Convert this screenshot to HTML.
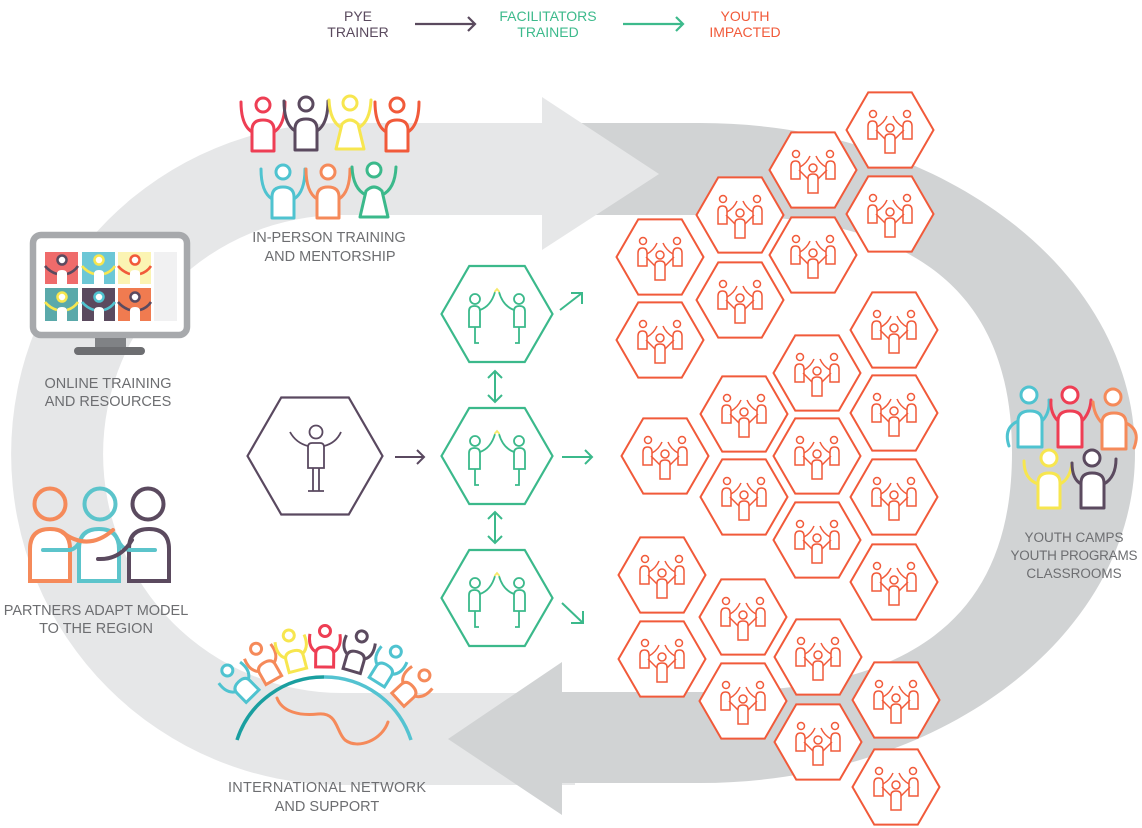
<!DOCTYPE html>
<html><head><meta charset="utf-8"><style>
html,body{margin:0;padding:0;background:#fff;}
svg{display:block;}
text{font-family:"Liberation Sans",sans-serif;}
</style></head><body>
<svg width="1142" height="828" viewBox="0 0 1142 828" xmlns="http://www.w3.org/2000/svg">
<defs>
<g id="oh">
<polygon points="-43.5,0 -21.75,-37.6 21.75,-37.6 43.5,0 21.75,37.6 -21.75,37.6" fill="#fff" stroke="#f15a3a" stroke-width="2"/>
<g fill="none" stroke="#f15a3a" stroke-width="1.5">
<circle cx="-17" cy="-16" r="3.5"/>
<circle cx="17" cy="-16" r="3.5"/>
<circle cx="0" cy="-2" r="4"/>
<path d="M-22,9 V-4 Q-22,-9 -17.5,-9 Q-13,-9 -13,-4 V9 Z"/>
<path d="M22,9 V-4 Q22,-9 17.5,-9 Q13,-9 13,-4 V9 Z"/>
<path d="M-5,23 V8 Q-5,4 0,4 Q5,4 5,8 V23 Z"/>
<path d="M-13,-3 Q-6,-7 -3,-14"/>
<path d="M13,-3 Q6,-7 3,-14"/>
<path d="M-5,9 L-14,0"/>
<path d="M5,9 L14,0"/>
</g>
</g>
<g id="gh">
<polygon points="-55.5,0 -27.75,-48 27.75,-48 55.5,0 27.75,48 -27.75,48" fill="#fff" stroke="#3bb98b" stroke-width="2.2"/>
<g fill="none" stroke="#3bb98b" stroke-width="1.8">
<circle cx="-22" cy="-15" r="5"/>
<circle cx="22" cy="-15" r="5"/>
<path d="M-28,13 V-3 Q-28,-8 -22.5,-8 Q-17,-8 -17,-3 V13 Z"/>
<path d="M28,13 V-3 Q28,-8 22.5,-8 Q17,-8 17,-3 V13 Z"/>
<path d="M-22,13 V29 H-18"/>
<path d="M22,13 V29 H18"/>
<path d="M-17,-4 Q-6,-8 -2,-22"/>
<path d="M17,-4 Q6,-8 2,-22"/>
</g>
<path d="M-2.5,-22 L0,-25 L2.5,-22" fill="none" stroke="#f5e96a" stroke-width="1.8"/>
</g>
<g id="nf">
<path d="M-9,-15 Q-17,-20 -15,-33" fill="none" stroke-width="3"/>
<path d="M9,-15 Q17,-20 15,-33" fill="none" stroke-width="3"/>
<path d="M-9,0 V-13 Q-9,-20 0,-20 Q9,-20 9,-13 V0 Z" fill="#fff" stroke-width="3"/>
<circle cx="0" cy="-36" r="5.5" fill="#fff" stroke-width="3"/>
</g>
</defs>

<!-- light gray loop -->
<path d="M560,123 L342,123 A331,331 0 0 0 342,785 L575,785 L575,693 L342,693 A239,239 0 0 1 342,215 L560,215 Z" fill="#e6e7e8"/>
<!-- dark gray loop -->
<path d="M575,123 L700,123 C940,123 1135,270 1135,453 C1135,636 940,783 700,783 L560,783 L560,692 L700,692 C900,694 1012,626 1012,453 C1012,280 900,212 700,215 L575,215 Z" fill="#d1d3d4"/>
<polygon points="562,662 448,739 562,815" fill="#d1d3d4"/>
<polygon points="542,97 659,174 542,250" fill="#e6e7e8"/>

<!-- legend -->
<g font-size="14" text-anchor="middle">
<text x="358" y="21" fill="#5a4a5e">PYE</text>
<text x="358" y="37" fill="#5a4a5e">TRAINER</text>
<text x="548" y="21" fill="#3dba8c">FACILITATORS</text>
<text x="548" y="37" fill="#3dba8c">TRAINED</text>
<text x="745" y="21" fill="#f15a3a">YOUTH</text>
<text x="745" y="37" fill="#f15a3a">IMPACTED</text>
</g>
<g fill="none" stroke-width="2.2">
<path d="M415,24 H475 M468,17 L475,24 L468,31" stroke="#5a4a5e"/>
<path d="M623,24 H683 M676,17 L683,24 L676,31" stroke="#3dba8c"/>
</g>

<!-- in-person figures -->
<g stroke-width="3" stroke-linejoin="round" stroke-linecap="round">
<g stroke="#ee3e54" fill="#fff"><path d="M252,132 Q241,125 241,102" fill="none"/><path d="M274,132 Q285,125 285,102" fill="none"/><path d="M252,151 V130 Q252,120 263,120 Q274,120 274,130 V151 Z"/><circle cx="263" cy="105" r="7"/></g>
<g stroke="#5b4a5f" fill="#fff"><path d="M295,131 Q284,124 284,101" fill="none"/><path d="M317,131 Q328,124 328,101" fill="none"/><path d="M295,150 V129 Q295,119 306,119 Q317,119 317,129 V150 Z"/><circle cx="306" cy="104" r="7"/></g>
<g stroke="#f7e64f" fill="#fff"><path d="M342,128 Q330,122 329,100" fill="none"/><path d="M358,128 Q370,122 371,100" fill="none"/><path d="M336,149 L342,124 Q350,116 358,124 L364,149 Z"/><circle cx="350" cy="103" r="7"/></g>
<g stroke="#f15a3a" fill="#fff"><path d="M386,132 Q375,125 375,102" fill="none"/><path d="M408,132 Q419,125 419,102" fill="none"/><path d="M386,151 V130 Q386,120 397,120 Q408,120 408,130 V151 Z"/><circle cx="397" cy="105" r="7"/></g>
<g stroke="#4fc3d0" fill="#fff"><path d="M272,199 Q261,192 261,169" fill="none"/><path d="M294,199 Q305,192 305,169" fill="none"/><path d="M272,218 V197 Q272,187 283,187 Q294,187 294,197 V218 Z"/><circle cx="283" cy="172" r="7"/></g>
<g stroke="#f58a5a" fill="#fff"><path d="M317,199 Q306,192 306,169" fill="none"/><path d="M339,199 Q350,192 350,169" fill="none"/><path d="M317,218 V197 Q317,187 328,187 Q339,187 339,197 V218 Z"/><circle cx="328" cy="172" r="7"/></g>
<g stroke="#3bb98b" fill="#fff"><path d="M366,195 Q353,189 352,167" fill="none"/><path d="M382,195 Q395,189 396,167" fill="none"/><path d="M360,217 L366,191 Q374,183 382,191 L388,217 Z"/><circle cx="374" cy="170" r="7"/></g>
</g>
<g font-size="14.5" fill="#6d6e71" text-anchor="middle">
<text x="329" y="242">IN-PERSON TRAINING</text>
<text x="330" y="261">AND MENTORSHIP</text>
<text x="108" y="388">ONLINE TRAINING</text>
<text x="108" y="406">AND RESOURCES</text>
<text x="96" y="615">PARTNERS ADAPT MODEL</text>
<text x="96" y="633">TO THE REGION</text>
<text x="327" y="792" textLength="198">INTERNATIONAL NETWORK</text>
<text x="327" y="811">AND SUPPORT</text>
</g>
<g font-size="13.5" fill="#6d6e71" text-anchor="middle">
<text x="1074" y="542">YOUTH CAMPS</text>
<text x="1074" y="560" textLength="127">YOUTH PROGRAMS</text>
<text x="1074" y="578">CLASSROOMS</text>
</g>

<!-- monitor -->
<rect x="33" y="235" width="154" height="100" rx="8" fill="#fff" stroke="#a7a9ac" stroke-width="6.5"/>
<rect x="95" y="338" width="31" height="10" fill="#808285"/>
<rect x="74" y="347" width="71" height="8" rx="4" fill="#6d6e71"/>
<rect x="154" y="252" width="23" height="69" fill="#f1f1f2"/>
<g>
<rect x="45" y="252" width="33" height="32" fill="#ef6b6b"/>
<rect x="82" y="252" width="33" height="32" fill="#6cc7d6"/>
<rect x="118" y="252" width="33" height="32" fill="#fbf4b3"/>
<rect x="45" y="288" width="33" height="33" fill="#5aa9aa"/>
<rect x="82" y="288" width="33" height="33" fill="#5b4a5f"/>
<rect x="118" y="288" width="33" height="33" fill="#f07b50"/>
</g>
<g stroke-width="2.6" fill="none">
<g stroke="#5b4a5f"><path d="M57,274 Q50,272 45,266 M67,274 Q74,272 78,266"/></g>
<g stroke="#f7e64f"><path d="M94,274 Q87,272 82,266 M104,274 Q111,272 115,266"/></g>
<g stroke="#f15a3a"><path d="M130,274 Q123,272 118,266 M140,274 Q147,272 151,266"/></g>
<g stroke="#f7e64f"><path d="M57,310 Q50,308 45,302 M67,310 Q74,308 78,302"/></g>
<g stroke="#4fc3d0"><path d="M94,310 Q87,308 82,302 M104,310 Q111,308 115,302"/></g>
<g stroke="#5b4a5f"><path d="M130,310 Q123,308 118,302 M140,310 Q147,308 151,302"/></g>
</g>
<g fill="#fff" stroke-width="2.5">
<path d="M57,284 V274 Q57,270 62,270 Q67,270 67,274 V284 Z" stroke="none"/>
<circle cx="62" cy="260" r="4.5" stroke="#5b4a5f"/>
<path d="M94,284 V274 Q94,270 99,270 Q104,270 104,274 V284 Z" stroke="none"/>
<circle cx="99" cy="260" r="4.5" stroke="#f7e64f"/>
<path d="M130,284 V274 Q130,270 135,270 Q140,270 140,274 V284 Z" stroke="none"/>
<circle cx="135" cy="260" r="4.5" stroke="#f15a3a"/>
<path d="M57,321 V311 Q57,307 62,307 Q67,307 67,311 V321 Z" stroke="none"/>
<circle cx="62" cy="297" r="4.5" stroke="#f7e64f"/>
<path d="M94,321 V311 Q94,307 99,307 Q104,307 104,311 V321 Z" stroke="none"/>
<circle cx="99" cy="297" r="4.5" stroke="#4fc3d0"/>
<path d="M130,321 V311 Q130,307 135,307 Q140,307 140,311 V321 Z" stroke="none"/>
<circle cx="135" cy="297" r="4.5" stroke="#5b4a5f"/>
</g>

<!-- partners -->
<g stroke-width="4" fill="none" stroke-linecap="round">
<circle cx="50" cy="504" r="15.5" stroke="#f58a5a"/>
<circle cx="100" cy="504" r="15.5" stroke="#5cc4cb"/>
<circle cx="148" cy="504" r="15.5" stroke="#5b4a5f"/>
<path d="M30,581 V549 Q30,529 50,529 Q70,529 70,549 V581 Z" stroke="#f58a5a" fill="#fff"/>
<path d="M79,581 V549 Q79,529 99,529 Q119,529 119,549 V581 Z" stroke="#5cc4cb" fill="#fff"/>
<path d="M129,581 V549 Q129,529 149,529 Q169,529 169,549 V581 Z" stroke="#5b4a5f" fill="#fff"/>
<path d="M43,550 H70 Q76,549 80,541" stroke="#5cc4cb"/>
<path d="M118,540 Q122,550 131,550 H155" stroke="#5cc4cb"/>
<path d="M62,532 Q88,552 113,530" stroke="#f58a5a"/>
<path d="M98,559 Q120,560 132,540" stroke="#5b4a5f"/>
</g>

<!-- network -->
<path d="M237,740 A91,91 0 0 1 324,677" fill="none" stroke="#1a9fa0" stroke-width="3.5"/>
<path d="M324,677 A91,91 0 0 1 411,740" fill="none" stroke="#54c3d1" stroke-width="3.5"/>
<path d="M277,698 C282,712 300,716 318,714 C338,712 336,732 345,740 C358,750 382,740 388,722" fill="none" stroke="#f58a5a" stroke-width="3" stroke-linecap="round"/>
<use href="#nf" stroke="#4fc3d0" transform="translate(252.6,696.1) rotate(-44.6)"/>
<use href="#nf" stroke="#f58a5a" transform="translate(273.8,680.1) rotate(-29.5)"/>
<use href="#nf" stroke="#f7e64f" transform="translate(297.9,670.3) rotate(-14.7)"/>
<use href="#nf" stroke="#ee3e54" transform="translate(324.6,667) rotate(0.6)"/>
<use href="#nf" stroke="#5b4a5f" transform="translate(351.7,671) rotate(16.2)"/>
<use href="#nf" stroke="#4fc3d0" transform="translate(376.8,682.2) rotate(31.9)"/>
<use href="#nf" stroke="#f58a5a" transform="translate(397.9,699.7) rotate(47.5)"/>

<!-- trainer -->
<polygon points="247.5,456 281.25,397.5 348.75,397.5 382.5,456 348.75,514.5 281.25,514.5" fill="#fff" stroke="#5a4960" stroke-width="2.2"/>
<g fill="none" stroke="#5a4960" stroke-width="1.8">
<circle cx="316" cy="432" r="6.5"/>
<path d="M308,468 V447 Q308,443 312,443 H320 Q324,443 324,447 V468 Z"/>
<path d="M308,446 Q296,443 290,432"/>
<path d="M324,446 Q336,443 341,432"/>
<path d="M313,468 V491 M319,468 V491 M308,491 H324"/>
<path d="M395,457 H424 M417,450 L424,457 L417,464" stroke-width="2"/>
</g>

<!-- facilitators -->
<use href="#gh" transform="translate(497,314)"/>
<use href="#gh" transform="translate(497,456)"/>
<use href="#gh" transform="translate(497,598)"/>
<g fill="none" stroke="#3bb98b" stroke-width="2">
<path d="M495,371 V402 M488,378 L495,371 L502,378 M488,395 L495,402 L502,395"/>
<path d="M495,512 V543 M488,519 L495,512 L502,519 M488,536 L495,543 L502,536"/>
<path d="M562,457 H592 M585,450 L592,457 L585,464"/>
<path d="M560,310 L582,293 M571,293 H582 V304"/>
<path d="M562,603 L583,623 M571,623 H583 V611"/>
</g>

<!-- youth hexes -->
<use href="#oh" transform="translate(890,130)"/>
<use href="#oh" transform="translate(813,170)"/>
<use href="#oh" transform="translate(890,214)"/>
<use href="#oh" transform="translate(740,215)"/>
<use href="#oh" transform="translate(813,255)"/>
<use href="#oh" transform="translate(660,257)"/>
<use href="#oh" transform="translate(740,300)"/>
<use href="#oh" transform="translate(660,340)"/>
<use href="#oh" transform="translate(894,330)"/>
<use href="#oh" transform="translate(817,373)"/>
<use href="#oh" transform="translate(744,414)"/>
<use href="#oh" transform="translate(894,413)"/>
<use href="#oh" transform="translate(665,456)"/>
<use href="#oh" transform="translate(817,456)"/>
<use href="#oh" transform="translate(744,497)"/>
<use href="#oh" transform="translate(894,497)"/>
<use href="#oh" transform="translate(817,540)"/>
<use href="#oh" transform="translate(662,575)"/>
<use href="#oh" transform="translate(894,582)"/>
<use href="#oh" transform="translate(743,617)"/>
<use href="#oh" transform="translate(662,659)"/>
<use href="#oh" transform="translate(818,657)"/>
<use href="#oh" transform="translate(743,701)"/>
<use href="#oh" transform="translate(896,700)"/>
<use href="#oh" transform="translate(818,742)"/>
<use href="#oh" transform="translate(896,787)"/>

<!-- youth group right -->
<g stroke-width="3" stroke-linecap="round" stroke-linejoin="round">
<g stroke="#4fc3d0" fill="none"><path d="M1018,421 Q1003,428 1009,446"/><path d="M1042,421 Q1050,413 1049,400"/></g>
<g stroke="#ee3e54" fill="none"><path d="M1058,421 Q1050,413 1051,400"/><path d="M1082,421 Q1090,413 1091,400"/></g>
<g stroke="#f58a5a" fill="none"><path d="M1102,423 Q1094,415 1093,402"/><path d="M1126,423 Q1141,430 1134,448"/></g>
<g stroke="#4fc3d0" fill="#fff"><path d="M1018,447 V421 Q1018,411 1030,411 Q1042,411 1042,421 V447 Z"/><circle cx="1029" cy="395" r="8"/></g>
<g stroke="#ee3e54" fill="#fff"><path d="M1058,447 V421 Q1058,411 1070,411 Q1082,411 1082,421 V447 Z"/><circle cx="1070" cy="395" r="8"/></g>
<g stroke="#f58a5a" fill="#fff"><path d="M1102,449 V423 Q1102,413 1114,413 Q1126,413 1126,423 V449 Z"/><circle cx="1113" cy="397" r="8"/></g>
<g stroke="#f7e64f" fill="none"><path d="M1038,484 Q1024,479 1024,461"/><path d="M1060,484 Q1070,479 1072,463"/></g>
<g stroke="#5b4a5f" fill="none"><path d="M1081,484 Q1072,479 1072,463"/><path d="M1104,484 Q1116,477 1116,459"/></g>
<g stroke="#f7e64f" fill="#fff"><path d="M1038,508 V483 Q1038,473 1049,473 Q1060,473 1060,483 V508 Z"/><circle cx="1049" cy="458" r="8"/></g>
<g stroke="#5b4a5f" fill="#fff"><path d="M1081,508 V483 Q1081,473 1092,473 Q1104,473 1104,483 V508 Z"/><circle cx="1092" cy="458" r="8"/></g>
</g>
</svg>
</body></html>
